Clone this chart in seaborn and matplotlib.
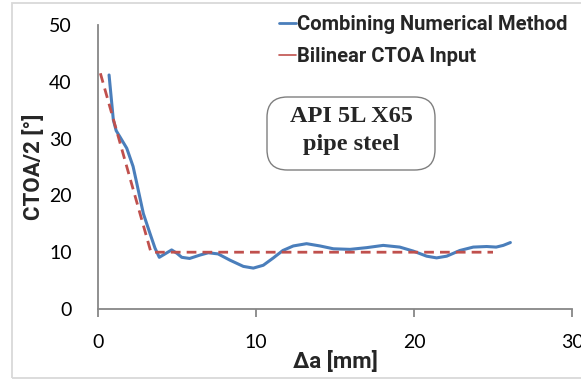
import numpy as np
import pandas as pd
import matplotlib
matplotlib.use("Agg")
import matplotlib.pyplot as plt
from matplotlib.lines import Line2D
from matplotlib.patches import Rectangle, FancyBboxPatch
import seaborn as sns

# Crack extension (mm) and half crack-tip opening angle (deg)
numerical_da = [0.7, 0.85, 0.97, 1.15, 1.39, 1.82, 2.22, 2.41, 2.87, 3.29, 3.61,
                3.88, 4.24, 4.66, 5.0, 5.3, 5.8, 6.46, 6.98, 7.6, 8.35, 9.2,
                9.83, 10.46, 11.1, 11.7, 12.36, 13.2, 14.05, 14.9, 15.95, 17.0,
                18.05, 19.1, 19.95, 20.8, 21.43, 22.07, 22.9, 23.75, 24.6, 25.2,
                25.65, 26.1]
numerical_ctoa = [41.2, 36.8, 33.3, 31.4, 30.3, 28.3, 25.1, 22.7, 16.8, 13.3, 10.7,
                  9.1, 9.7, 10.4, 9.8, 9.1, 8.9, 9.5, 9.9, 9.7, 8.6, 7.5,
                  7.2, 7.7, 9.0, 10.3, 11.1, 11.5, 11.1, 10.6, 10.5, 10.8,
                  11.2, 10.9, 10.2, 9.3, 9.0, 9.3, 10.3, 10.9, 11.0, 10.9,
                  11.2, 11.7]

bilinear_da = [0.15, 3.35, 25.0]
bilinear_ctoa = [41.5, 10.0, 10.0]

x_ticks = [0, 10, 20, 30]
y_ticks = [0, 10, 20, 30, 40, 50]

sns.set_theme(style="white")
plt.rcParams["font.family"] = ["Lato", "DejaVu Sans"]

BLUE = "#4a7ebb"
RED = "#c0504d"
GRAY = "#878787"
BOLD_FONT = ["Roboto", "DejaVu Sans"]

W, H = 581, 380
fig = plt.figure(figsize=(W / 100, H / 100), dpi=100)
ax = fig.add_axes([98 / W, 1 - 309 / H, (572 - 98) / W, (309 - 25) / H])

# Outer chart frame
fig.patches.append(Rectangle((12 / W, 1 - 378 / H), (620 - 12) / W, (378 - 3) / H,
                             transform=fig.transFigure, fill=False,
                             edgecolor="#d9d9d9", linewidth=1.3))

num_df = pd.DataFrame({"da": numerical_da, "ctoa": numerical_ctoa})
bil_df = pd.DataFrame({"da": bilinear_da, "ctoa": bilinear_ctoa})

sns.lineplot(data=num_df, x="da", y="ctoa", ax=ax, color=BLUE, linewidth=2.2,
             sort=False, estimator=None)
sns.lineplot(data=bil_df, x="da", y="ctoa", ax=ax, color=RED, linewidth=2.0,
             sort=False, estimator=None, dashes=False, linestyle=(0, (3.5, 2.2)))
for ln in ax.lines:
    ln.set_solid_joinstyle("round")
    ln.set_solid_capstyle("round")

ax.set_xlim(0, 30)
ax.set_ylim(0, 50)
ax.set_xticks(x_ticks)
ax.set_yticks(y_ticks)
ax.set_xticklabels([str(t) for t in x_ticks])
ax.set_yticklabels([str(t) for t in y_ticks])

for side in ["top", "right"]:
    ax.spines[side].set_visible(False)
for side in ["left", "bottom"]:
    ax.spines[side].set_color(GRAY)
    ax.spines[side].set_linewidth(1.3)

ax.tick_params(axis="x", direction="out", length=6, width=1.3, color=GRAY,
               pad=12, labelsize=14, labelcolor="black", bottom=True)
ax.tick_params(axis="y", length=0, pad=19, labelsize=14, labelcolor="black")

ax.set_xlabel("Δa [mm]", fontsize=16, fontweight="bold", family=BOLD_FONT,
              labelpad=0)
ax.set_ylabel("CTOA/2 [°]", fontsize=16, fontweight="bold", family=BOLD_FONT,
              labelpad=3)

handles = [Line2D([], [], color=BLUE, linewidth=2.0),
           Line2D([], [], color=RED, linewidth=1.2)]
fig.legend(handles, ["Combining Numerical Method", "Bilinear CTOA Input"],
           loc="upper left", bbox_to_anchor=(279 / W, 1 - 15 / H),
           bbox_transform=fig.transFigure, frameon=False, borderpad=0,
           borderaxespad=0, handlelength=0.85, handletextpad=0.05,
           labelspacing=0.65,
           prop={"family": BOLD_FONT, "weight": "bold", "size": 14.5})

# Material annotation box
box_x0, box_x1, box_top, box_bot = 267, 435, 97, 170
fig.patches.append(FancyBboxPatch(
    (box_x0 / W, 1 - box_bot / H), (box_x1 - box_x0) / W, (box_bot - box_top) / H,
    boxstyle="round,pad=0,rounding_size=0.035", mutation_aspect=W / H,
    transform=fig.transFigure, facecolor="white", edgecolor="#7f7f7f",
    linewidth=1.0, zorder=3))
fig.text((box_x0 + box_x1) / 2 / W, 1 - 116 / H, "API 5L X65", ha="center",
         va="center", fontsize=17.5, fontweight="bold",
         family=["Liberation Serif", "DejaVu Serif"], zorder=4)
fig.text((box_x0 + box_x1) / 2 / W, 1 - 144 / H, "pipe steel", ha="center",
         va="center", fontsize=17.5, fontweight="bold",
         family=["Liberation Serif", "DejaVu Serif"], zorder=4)

fig.savefig("out.png", dpi=100)
